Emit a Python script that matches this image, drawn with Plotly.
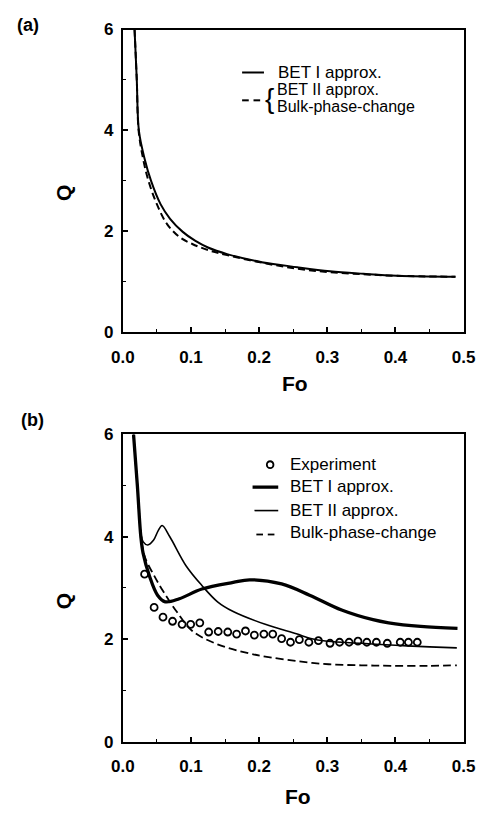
import plotly.graph_objects as go

W, H = 488, 818

# ---------------- data: panel (a) ----------------
fo_a_bet1 = [0.0173, 0.0205, 0.0237, 0.032, 0.0415, 0.0554, 0.0694, 0.088, 0.1066, 0.125,
             0.153, 0.204, 0.256, 0.304, 0.353, 0.402, 0.488]
q_a_bet1 = [6.0, 5.02, 3.99, 3.44, 3.0, 2.54, 2.25, 1.99, 1.81, 1.68,
            1.55, 1.39, 1.29, 1.21, 1.16, 1.12, 1.10]
fo_a_bulk = [0.0173, 0.0205, 0.0233, 0.0298, 0.0377, 0.050, 0.0647, 0.083, 0.102, 0.125,
             0.153, 0.204, 0.256, 0.304, 0.353, 0.402, 0.488]
q_a_bulk = [6.0, 5.02, 3.99, 3.44, 3.0, 2.54, 2.15, 1.89, 1.75, 1.63,
            1.53, 1.38, 1.26, 1.19, 1.15, 1.12, 1.10]

# ---------------- data: panel (b) ----------------
fo_b_bet1 = [0.0158, 0.0214, 0.0265, 0.0298, 0.039, 0.051, 0.0624, 0.083, 0.116, 0.162,
             0.186, 0.233, 0.274, 0.321, 0.367, 0.39, 0.437, 0.491]
q_b_bet1 = [6.0, 5.0, 4.0, 3.68, 3.24, 2.86, 2.73, 2.79, 2.98, 3.11,
            3.16, 3.08, 2.86, 2.57, 2.38, 2.32, 2.25, 2.21]
fo_b_bet2 = [0.0158, 0.0214, 0.0262, 0.0300, 0.0367, 0.045, 0.052, 0.0577, 0.069, 0.093,
             0.116, 0.139, 0.162, 0.209, 0.256, 0.274, 0.30, 0.35, 0.40, 0.45, 0.49]
q_b_bet2 = [6.0, 5.0, 4.1, 3.9, 3.84, 3.93, 4.12, 4.22, 4.0, 3.43,
            3.05, 2.73, 2.54, 2.29, 2.10, 2.02, 1.96, 1.92, 1.88, 1.85, 1.83]
fo_b_bulk = [0.0158, 0.0214, 0.027, 0.032, 0.046, 0.060, 0.079, 0.102, 0.139, 0.186,
             0.209, 0.256, 0.302, 0.35, 0.395, 0.45, 0.49]
q_b_bulk = [6.0, 5.0, 4.0, 3.62, 3.24, 2.92, 2.54, 2.16, 1.90, 1.72,
            1.66, 1.57, 1.51, 1.49, 1.48, 1.48, 1.49]
fo_b_exp = [0.032, 0.046, 0.059, 0.073, 0.087, 0.0996, 0.113, 0.126, 0.140, 0.154,
            0.167, 0.180, 0.193, 0.207, 0.220, 0.233, 0.246, 0.259, 0.273, 0.287,
            0.304, 0.318, 0.332, 0.345, 0.358, 0.372, 0.388, 0.407, 0.419, 0.432]
q_b_exp = [3.27, 2.62, 2.43, 2.35, 2.29, 2.29, 2.32, 2.14, 2.15, 2.14,
           2.10, 2.16, 2.08, 2.10, 2.10, 2.01, 1.94, 1.99, 1.94, 1.97,
           1.92, 1.94, 1.94, 1.96, 1.94, 1.94, 1.92, 1.94, 1.94, 1.94]

x_ticks = [0.0, 0.1, 0.2, 0.3, 0.4, 0.5]
y_ticks = [0, 2, 4, 6]
x_title = "Fo"
y_title = "Q"
legend_a = ["BET I approx.", "BET II approx.", "Bulk-phase-change"]
legend_b = ["Experiment", "BET I approx.", "BET II approx.", "Bulk-phase-change"]

FONT = "Liberation Sans, Arial, Helvetica, sans-serif"


def px(x):
    return x / W


def py(y):
    return 1 - y / H


fig = go.Figure()

# panel (a)
fig.add_trace(go.Scatter(x=fo_a_bet1, y=q_a_bet1, mode="lines", line=dict(color="black", width=2, shape="spline"),
                         xaxis="x", yaxis="y", showlegend=False))
fig.add_trace(go.Scatter(x=fo_a_bulk, y=q_a_bulk, mode="lines",
                         line=dict(color="black", width=2, dash="7px,4px", shape="spline"),
                         xaxis="x", yaxis="y", showlegend=False))
# panel (b)
fig.add_trace(go.Scatter(x=fo_b_bet1, y=q_b_bet1, mode="lines", line=dict(color="black", width=3.3, shape="spline"),
                         xaxis="x2", yaxis="y2", showlegend=False))
fig.add_trace(go.Scatter(x=fo_b_bet2, y=q_b_bet2, mode="lines", line=dict(color="black", width=1.6, shape="spline"),
                         xaxis="x2", yaxis="y2", showlegend=False))
fig.add_trace(go.Scatter(x=fo_b_bulk, y=q_b_bulk, mode="lines",
                         line=dict(color="black", width=1.8, dash="8px,4px", shape="spline"),
                         xaxis="x2", yaxis="y2", showlegend=False))
fig.add_trace(go.Scatter(x=fo_b_exp, y=q_b_exp, mode="markers",
                         marker=dict(symbol="circle-open", size=7, color="black", line=dict(width=1.8)),
                         xaxis="x2", yaxis="y2", showlegend=False, cliponaxis=False))

xdom = [116.5 / W, 475 / W]
ax_common = dict(showline=True, mirror=True, linecolor="black", linewidth=2, showgrid=False, zeroline=False,
                 ticks="inside", ticklen=5, tickwidth=1.5, tickcolor="black",
                 tickfont=dict(family=FONT, size=17, color="black", weight="bold"))
xcommon = dict(ax_common, range=[0, 0.5], tickvals=x_ticks, tickformat=".1f", domain=xdom,
               minor=dict(dtick=0.05, tick0=0, ticks="inside", ticklen=3, tickwidth=1.2, tickcolor="black"),
               ticklabelstandoff=8)
ycommon = dict(ax_common, range=[0, 6], tickvals=y_ticks,
               minor=dict(dtick=1, tick0=0, ticks="inside", ticklen=3, tickwidth=1.2, tickcolor="black"),
               ticklabelstandoff=4)

fig.update_layout(
    width=W, height=H, margin=dict(l=0, r=0, t=0, b=0),
    paper_bgcolor="white", plot_bgcolor="white",
    xaxis=dict(xcommon, anchor="y"),
    yaxis=dict(ycommon, anchor="x", domain=[py(331), py(21)]),
    xaxis2=dict(xcommon, anchor="y2"),
    yaxis2=dict(ycommon, anchor="x2", domain=[py(750), py(435.5)]),
    showlegend=False,
)

ann = []


def text(x, y, s, size=17, xanchor="left", angle=0, weight="normal"):
    ann.append(dict(x=px(x), y=py(y), xref="paper", yref="paper", text=s, showarrow=False,
                    xanchor=xanchor, yanchor="middle", textangle=angle,
                    font=dict(family=FONT, size=size, color="black", weight=weight)))


# panel labels and axis titles
text(3, 16, "(a)", 18, weight="bold")
text(7, 421, "(b)", 18, weight="bold")
text(298, 383, x_title, 21, xanchor="center", weight="bold")
text(301, 806, x_title, 21, xanchor="center", weight="bold")
text(54, 188, y_title, 21, xanchor="center", angle=-90, weight="bold")
text(55, 606, y_title, 21, xanchor="center", angle=-90, weight="bold")

# legend (a)
text(278, 65, legend_a[0])
text(277, 82, legend_a[1], 16)
text(277, 100, legend_a[2], 16)
ann.append(dict(x=px(271), y=py(92), xref="paper", yref="paper", text="{", showarrow=False,
                xanchor="center", yanchor="middle", font=dict(family=FONT, size=28, color="black")))
# legend (b)
text(290, 466, legend_b[0])
text(290, 489, legend_b[1])
text(290, 513, legend_b[2])
text(290, 536, legend_b[3])

fig.update_layout(annotations=ann)

shapes = []


def seg(x0, x1, y, w):
    shapes.append(dict(type="line", xref="paper", yref="paper", x0=px(x0), x1=px(x1), y0=py(y), y1=py(y),
                       line=dict(color="black", width=w)))


seg(242, 265, 65, 2)
seg(242, 249, 93.5, 2)
seg(254, 261, 93.5, 2)
shapes.append(dict(type="circle", xref="paper", yref="paper", x0=px(268), x1=px(275), y0=py(470), y1=py(463),
                   line=dict(color="black", width=1.8)))
seg(253, 280, 489.5, 3.3)
seg(255, 280, 513.5, 1.6)
seg(257, 264, 538, 1.8)
seg(269, 276, 538, 1.8)
fig.update_layout(shapes=shapes)

fig.write_html("out.html")
